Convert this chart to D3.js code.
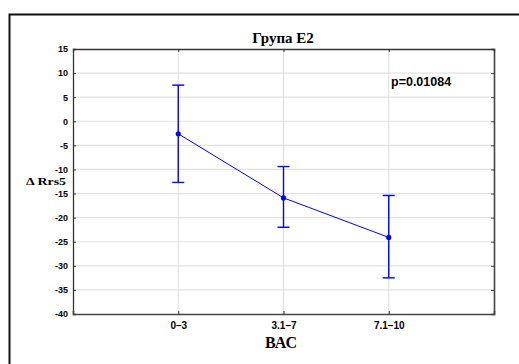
<!DOCTYPE html>
<html><head><meta charset="utf-8">
<script src="https://cdn.jsdelivr.net/npm/d3@7"></script>
<style>body{margin:0;background:#fff}</style>
</head><body>
<svg id="c" width="519" height="364"></svg>
<script>
const categories = ["0–3", "3.1–7", "7.1–10"];
const means = [-2.6, -15.9, -24.1];
const upper = [7.5, -9.4, -15.4];
const lower = [-12.7, -22.0, -32.5];
const yTicks = [15, 10, 5, 0, -5, -10, -15, -20, -25, -30, -35, -40];
const title = "Група E2";
const yLabel = "Δ Rrs5";
const xLabel = "ВАС";
const pText = "p=0.01084";

const svg = d3.select("#c");
const L = 73, T = 49, R = 494, B = 314;
const blue = "#0000ff";
const SANS = "'Liberation Sans', Arial, sans-serif";
const SERIF = "'Liberation Serif', 'Times New Roman', serif";

svg.append("path").attr("d", "M9.5,364 V14.5 H519").attr("fill","none").attr("stroke","#111").attr("stroke-width",2);

const x = d3.scaleLinear().domain([0, 4]).range([L, R]);
const y = d3.scaleLinear().domain([-40, 15]).range([B, T]);

svg.append("g").selectAll("line").data(yTicks.filter(d => d > -40 && d < 15)).join("line")
  .attr("x1", L).attr("x2", R).attr("y1", d => y(d)).attr("y2", d => y(d))
  .attr("stroke", "#e2e2e2").attr("stroke-width", 1.2);
svg.append("g").selectAll("line").data(categories).join("line")
  .attr("x1", (d,i) => x(i+1)).attr("x2", (d,i) => x(i+1)).attr("y1", T).attr("y2", B)
  .attr("stroke", "#dcdcdc").attr("stroke-width", 1);

const fmt = d => d;
svg.append("g").attr("transform", `translate(${L},0)`)
  .call(d3.axisLeft(y).tickValues(yTicks).tickSize(-3).tickPadding(6).tickFormat(fmt))
  .call(g => { g.select(".domain").attr("stroke","#333").attr("stroke-width",1.3);
    g.selectAll(".tick line").attr("stroke","#333");
    g.selectAll("text").attr("font-family",SANS).attr("font-weight","bold").attr("font-size","9px").attr("fill","#000").attr("x",-5); });
svg.append("g").attr("transform", `translate(${R},0)`)
  .call(d3.axisRight(y).tickValues(yTicks).tickSize(-3).tickFormat(""))
  .call(g => { g.select(".domain").attr("stroke","#444").attr("stroke-width",1.6); g.selectAll(".tick line").attr("stroke","#444"); });
svg.append("g").attr("transform", `translate(0,${B})`)
  .call(d3.axisBottom(x).tickValues([1,2,3]).tickSize(-3).tickPadding(8).tickFormat((d) => categories[d-1]))
  .call(g => { g.select(".domain").attr("stroke","#444").attr("stroke-width",1.6);
    g.selectAll(".tick line").attr("stroke","#333");
    g.selectAll("text").attr("font-family",SANS).attr("font-weight","bold").attr("font-size","10px").attr("fill","#000"); });
svg.append("g").attr("transform", `translate(0,${T})`)
  .call(d3.axisTop(x).tickValues([1,2,3]).tickSize(-3).tickFormat(""))
  .call(g => { g.select(".domain").attr("stroke","#333").attr("stroke-width",1.3); g.selectAll(".tick line").attr("stroke","#333"); });

const eb = svg.append("g").attr("stroke", blue).attr("stroke-width", 1.4);
categories.forEach((c, i) => {
  const cx = x(i+1);
  eb.append("line").attr("x1",cx).attr("x2",cx).attr("y1",y(upper[i])).attr("y2",y(lower[i]));
  eb.append("line").attr("x1",cx-6).attr("x2",cx+6).attr("y1",y(upper[i])).attr("y2",y(upper[i]));
  eb.append("line").attr("x1",cx-6).attr("x2",cx+6).attr("y1",y(lower[i])).attr("y2",y(lower[i]));
});

svg.append("path").datum(means)
  .attr("d", d3.line().x((d,i) => x(i+1)).y(d => y(d)))
  .attr("fill","none").attr("stroke", blue).attr("stroke-width", 1);
svg.append("g").selectAll("circle").data(means).join("circle")
  .attr("cx",(d,i)=>x(i+1)).attr("cy",d=>y(d)).attr("r",2.6).attr("fill",blue);

svg.append("text").attr("x", 283).attr("y", 43).attr("text-anchor","middle")
  .attr("font-family",SERIF).attr("font-weight","bold").attr("font-size","15px").text(title);
svg.append("text").attr("x", 391).attr("y", 86)
  .attr("font-family",SANS).attr("font-weight","bold").attr("font-size","12.5px").text(pText);
svg.append("text").attr("x", 26).attr("y", 185.2)
  .attr("textLength", 40).attr("lengthAdjust", "spacingAndGlyphs")
  .attr("font-family",SERIF).attr("font-weight","bold").attr("font-size","11px").text(yLabel);
svg.append("text").attr("x", 281).attr("y", 348).attr("text-anchor","middle")
  .attr("font-family",SERIF).attr("font-weight","bold").attr("font-size","16px").text(xLabel);
</script>
</body></html>
